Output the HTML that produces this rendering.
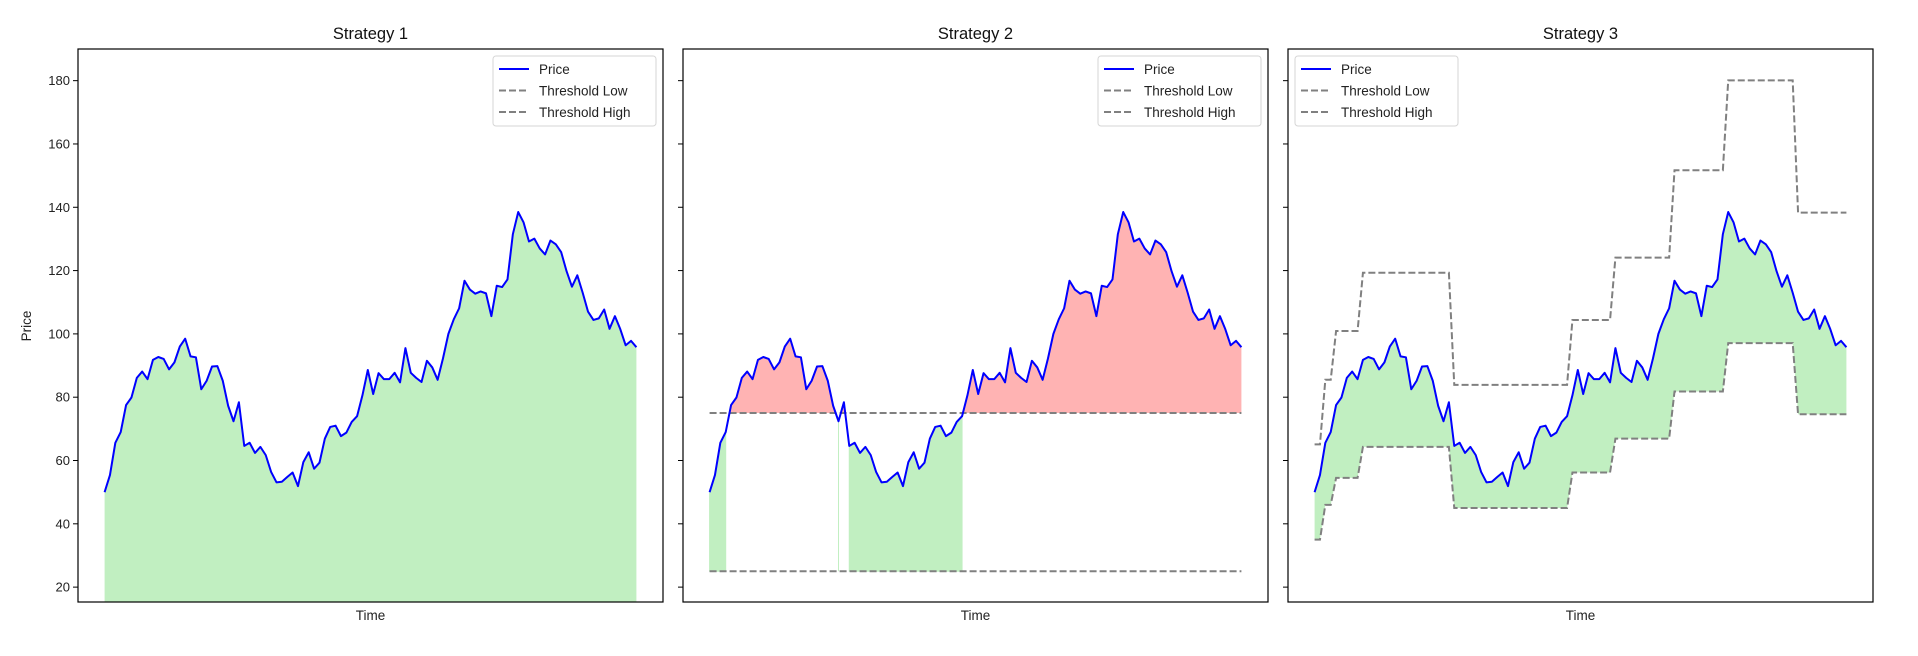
<!DOCTYPE html>
<html><head><meta charset="utf-8">
<style>
html,body{margin:0;padding:0;background:#fff;}
svg{display:block;font-family:"Liberation Sans","DejaVu Sans",sans-serif;}
</style></head>
<body>
<svg id="chart" width="1918" height="656" viewBox="0 0 1918 656"></svg>
<script>
const prices = [50.0,55.4,65.6,69,77.5,79.9,86.1,88.1,85.7,91.8,92.7,92.1,88.8,91,96,98.5,92.9,92.6,82.5,85.2,89.7,89.8,85.2,77.3,72.4,78.4,64.6,65.6,62.4,64.3,61.7,56.4,53.1,53.3,54.8,56.2,51.9,59.5,62.6,57.4,59.3,66.9,70.6,71,67.7,68.8,72.2,74,80.6,88.6,81,87.6,85.7,85.7,87.7,84.7,95.5,87.7,86.1,84.8,91.5,89.4,85.5,92.3,100,104.6,108.1,116.8,114,112.7,113.4,112.8,105.6,115.2,114.8,117.2,131.5,138.5,135.2,129.2,130.1,127,125.1,129.5,128.3,125.8,119.8,114.9,118.5,113,107,104.4,104.9,107.7,101.6,105.6,101.5,96.4,97.8,95.8];
const s2Low = 25;
const s2High = 75;
const s3StepEnds = [1,3,8,25,47,55,66,76,89,99];
const s3LowLevels = [35,46,54.5,64.3,45,56.2,66.9,81.8,97.1,74.6];
const s3HighLevels = [65.1,85.5,100.9,119.3,83.9,104.4,124.1,151.7,180.1,138.3];
const yTicks = [20,40,60,80,100,120,140,160,180];
const titles = ["Strategy 1","Strategy 2","Strategy 3"];

const NS="http://www.w3.org/2000/svg";
const svg=document.getElementById('chart');
const TOP=49,BOT=602,W=585,YMIN=15.3,YMAX=190;
const LEFTS=[78,683,1288];
const N=prices.length;
function yS(v){return BOT-(v-YMIN)/(YMAX-YMIN)*(BOT-TOP);}
function xS(p,i){const L=LEFTS[p];return L+W/22+i*(W*20/22)/(N-1);}
function mk(tag,attrs,parent){const e=document.createElementNS(NS,tag);for(const k in attrs)e.setAttribute(k,attrs[k]);(parent||svg).appendChild(e);return e;}
function stepVals(levels){const out=[];let s=0;for(let i=0;i<N;i++){while(i>s3StepEnds[s])s++;out.push(levels[s]);}return out;}
const s3Low=stepVals(s3LowLevels), s3High=stepVals(s3HighLevels);

function linePts(p,arr){return arr.map((v,i)=>xS(p,i).toFixed(2)+','+yS(v).toFixed(2)).join(' ');}

for(let p=0;p<3;p++){
  const L=LEFTS[p];
  const g=mk('g',{});
  
  
  const cp=mk('clipPath',{id:'clip'+p},g);
  mk('rect',{x:L,y:TOP,width:W,height:BOT-TOP},cp);
  const plot=mk('g',{'clip-path':'url(#clip'+p+')'},g);
  if(p===0){
    const pts=linePts(0,prices)+' '+xS(0,N-1)+','+yS(0)+' '+xS(0,0)+','+yS(0);
    const f=mk('polygon',{points:pts,fill:'#c1efc1'},plot);
    
    
  } else if(p===1){
    // red: interpolated above high
    const cp2=mk('clipPath',{id:'clipAbove'},g);
    mk('rect',{x:L,y:TOP,width:W,height:yS(s2High)-TOP},cp2);
    const rp=linePts(1,prices)+' '+xS(1,N-1)+','+yS(s2High)+' '+xS(1,0)+','+yS(s2High);
    const r=mk('polygon',{points:rp,fill:'#ffb3b3','clip-path':'url(#clipAbove)'},plot);
    
    
    // green: runs where price < high
    let i=0;
    while(i<N){
      if(prices[i]<s2High){let j=i;while(j+1<N&&prices[j+1]<s2High)j++;
        const seg=prices.slice(i,j+1);
        let pts=seg.map((v,k)=>xS(1,i+k)+','+yS(v)).join(' ')+' '+xS(1,j)+','+yS(s2Low)+' '+xS(1,i)+','+yS(s2Low);
        const gp=mk('polygon',{points:pts,fill:'#c1efc1',stroke:'#c1efc1','stroke-width':1},plot);
        
        
        i=j+1;} else i++;
    }
    [s2Low,s2High].forEach((v,k)=>{
      const l=mk('line',{x1:xS(1,0),x2:xS(1,N-1),y1:yS(v),y2:yS(v),stroke:'#808080','stroke-width':2,'stroke-dasharray':'7,3'},plot);
      
      
    });
  } else {
    const pts=linePts(2,prices)+' '+s3Low.map((v,i)=>xS(2,i)+','+yS(v)).reverse().join(' ');
    const f=mk('polygon',{points:pts,fill:'#c1efc1'},plot);
    
    
    [s3Low,s3High].forEach((arr,k)=>{
      const l=mk('polyline',{points:linePts(2,arr),fill:'none',stroke:'#808080','stroke-width':2,'stroke-dasharray':'7,3'},plot);
      
      
    });
  }
  const pl=mk('polyline',{points:linePts(p,prices),fill:'none',stroke:'#0000ff','stroke-width':2,'stroke-linejoin':'round'},plot);
  
  
  // frame
  const fr=mk('rect',{x:L,y:TOP,width:W,height:BOT-TOP,fill:'none',stroke:'#000','stroke-width':1.2},g);
  
  
  // ticks
  yTicks.forEach(t=>{
    mk('line',{x1:L-5,x2:L,y1:yS(t),y2:yS(t),stroke:'#000','stroke-width':1},g);
    if(p===0){const tx=mk('text',{x:L-8,y:yS(t)+4.5,'text-anchor':'end','font-size':13,fill:'#222'},g);tx.textContent=t;
      
      }
  });
  const ti=mk('text',{x:L+W/2,y:39,'text-anchor':'middle','font-size':16.5,fill:'#111'},g);
  ti.textContent=titles[p];
  
  
  const xl=mk('text',{x:L+W/2,y:620,'text-anchor':'middle','font-size':13.5,fill:'#222'},g);
  xl.textContent='Time';
  
  
  // legend
  const lx = p===2 ? L+7 : L+W-170;
  const lg=mk('g',{},g);
  
  
  mk('rect',{x:lx,y:56,width:163,height:70,rx:3,fill:'#fff','fill-opacity':0.85,stroke:'#d6d6d6'},lg);
  const items=[['Price','#0000ff',null],['Threshold Low','#808080','7,3'],['Threshold High','#808080','7,3']];
  items.forEach((it,k)=>{
    const yy=69+k*21.5;
    const ll=mk('line',{x1:lx+6,x2:lx+36,y1:yy,y2:yy,stroke:it[1],'stroke-width':2},lg);
    if(it[2])ll.setAttribute('stroke-dasharray',it[2]);
    const t=mk('text',{x:lx+46,y:yy+5,'font-size':13.5,fill:'#222'},lg);
    t.textContent=it[0];
    
    
  });
}
const yl=mk('text',{x:31,y:326,'text-anchor':'middle','font-size':13.5,fill:'#222',transform:'rotate(-90 31 326)'});
yl.textContent='Price';


</script>
</body></html>
